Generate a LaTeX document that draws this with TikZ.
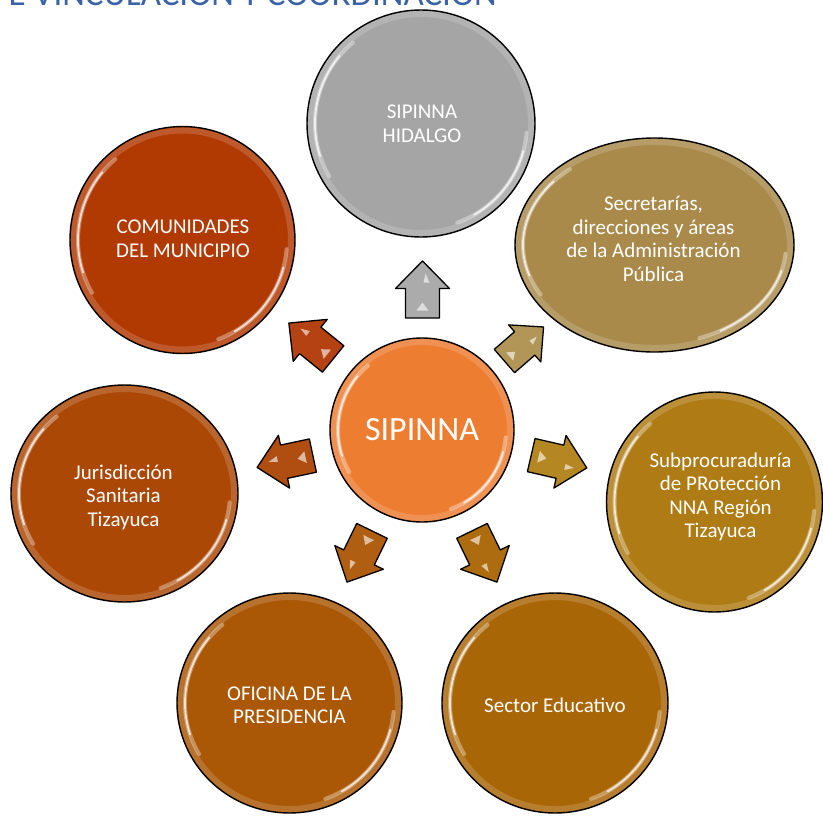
\documentclass[tikz,border=0pt]{standalone}
\usepackage{fontspec}
\setmainfont{Carlito}
\usetikzlibrary{shapes.geometric}
\definecolor{cHid}{HTML}{A5A5A5}
\definecolor{cSec}{HTML}{A98A4B}
\definecolor{cSub}{HTML}{AE7B14}
\definecolor{cEdu}{HTML}{A96606}
\definecolor{cOfi}{HTML}{AA5706}
\definecolor{cJur}{HTML}{AC4806}
\definecolor{cCom}{HTML}{B13A03}
\definecolor{cSip}{HTML}{ED7D31}
\definecolor{aHid}{HTML}{ABABAB}
\definecolor{aSec}{HTML}{B29658}
\definecolor{aSub}{HTML}{B58722}
\definecolor{aEdu}{HTML}{AE6C10}
\definecolor{aOfi}{HTML}{B05E12}
\definecolor{aJur}{HTML}{B04E12}
\definecolor{aCom}{HTML}{B44212}
\definecolor{titleblue}{HTML}{3A62A7}
\tikzset{
  bubble/.style={ellipse, draw=black, line width=1.4pt, inner sep=0pt},
  lbl/.style={text=white, align=center, inner sep=0pt, font=\fontsize{21}{23.5}\selectfont},
  gloss/.style={white, line cap=round},
  blockarrow/.style={draw=black, line width=1.3pt, line join=round},
  glint/.style={fill=white, opacity=.6},
}
% name, x, y (pixels, downward), rx, ry, colour
\newcommand\bub[6]{%
  \node[bubble, fill=#6, minimum width={2*#4}, minimum height={2*#5}] (#1) at (#2,-#3) {};
  \draw[white, opacity=.16, line width=6pt] (#1.center) ellipse [x radius=#4-4, y radius=#5-4];
  \draw[gloss, opacity=.35, line width=4pt] (#1.center) ++(130:{#4-8} and {#5-8})
     arc[start angle=130, end angle=210, x radius=#4-8, y radius=#5-8];
  \draw[gloss, opacity=.75, line width=1.8pt] (#1.center) ++(140:{#4-8} and {#5-8})
     arc[start angle=140, end angle=198, x radius=#4-8, y radius=#5-8];
  \draw[gloss, opacity=.35, line width=4pt] (#1.center) ++(-5:{#4-8} and {#5-8})
     arc[start angle=-5, end angle=-70, x radius=#4-8, y radius=#5-8];
  \draw[gloss, opacity=.75, line width=1.8pt] (#1.center) ++(-15:{#4-8} and {#5-8})
     arc[start angle=-15, end angle=-60, x radius=#4-8, y radius=#5-8];
}
% x, y (pixels, downward), angle, scale, colour
\newcommand\barr[5]{%
  \begin{scope}[shift={(#1,-#2)}, rotate=#3, scale=#4]
    \draw[blockarrow, fill=#5] (-28.5,17) -- (1,17) -- (1,27) -- (28.5,0)
       -- (1,-27) -- (1,-17) -- (-28.5,-17) -- cycle;
    \fill[glint] (16,-3) -- (7,-1) -- (7,-7) -- cycle;
    \fill[glint] (-13,0) -- (-21,6) -- (-21,-6) -- cycle;
  \end{scope}
}
\begin{document}
\begin{tikzpicture}[x=1pt, y=1pt]
\useasboundingbox (0,-815) rectangle (823,0);
\fill[white] (0,-815) rectangle (823,0);

\node[anchor=base east, inner sep=0pt, text=titleblue,
      font=\fontsize{35}{35}\selectfont] (title) at (497,-5) {E VINCULACIÓN Y COORDINACIÓN};

\bub{hid}{421}{123.5}{114}{113.5}{cHid}
\bub{sec}{654.5}{245}{139.5}{107}{cSec}
\bub{sub}{714.5}{502}{108}{110}{cSub}
\bub{edu}{555}{703}{113}{110}{cEdu}
\bub{ofi}{289.5}{703}{112.5}{110}{cOfi}
\bub{jur}{124.5}{493.5}{113.5}{108.5}{cJur}
\bub{com}{182.5}{240}{112.5}{113.5}{cCom}
\bub{sip}{422}{430}{92}{92}{cSip}

\node[lbl] (thid) at (422,-124) {SIPINNA\\HIDALGO};
\node[lbl] (tsec) at (653.5,-239) {Secretarías,\\direcciones y áreas\\de la Administración\\Pública};
\node[lbl] (tsub) at (720.5,-497) {Subprocuraduría\\de PRotección\\NNA Región\\Tizayuca};
\node[lbl] (tedu) at (555,-705) {Sector Educativo};
\node[lbl] (tofi) at (289.5,-705) {OFICINA DE LA\\PRESIDENCIA};
\node[lbl] (tjur) at (123.5,-497) {Jurisdicción\\Sanitaria\\Tizayuca};
\node[lbl] (tcom) at (183,-239) {COMUNIDADES\\DEL MUNICIPIO};
\node[lbl, font=\fontsize{34}{36}\selectfont] (tsip) at (422,-430) {SIPINNA};

\barr{422.5}{289.5}{90}{1}{aHid}
\barr{524}{344}{41}{0.91}{aSec}
\barr{559}{461.5}{-13}{1}{aSub}
\barr{484.5}{556.5}{-64}{1}{aEdu}
\barr{359.5}{556.5}{-116}{1}{aOfi}
\barr{285}{461.5}{192}{1}{aJur}
\barr{311}{341}{141}{1}{aCom}
\end{tikzpicture}
\end{document}
